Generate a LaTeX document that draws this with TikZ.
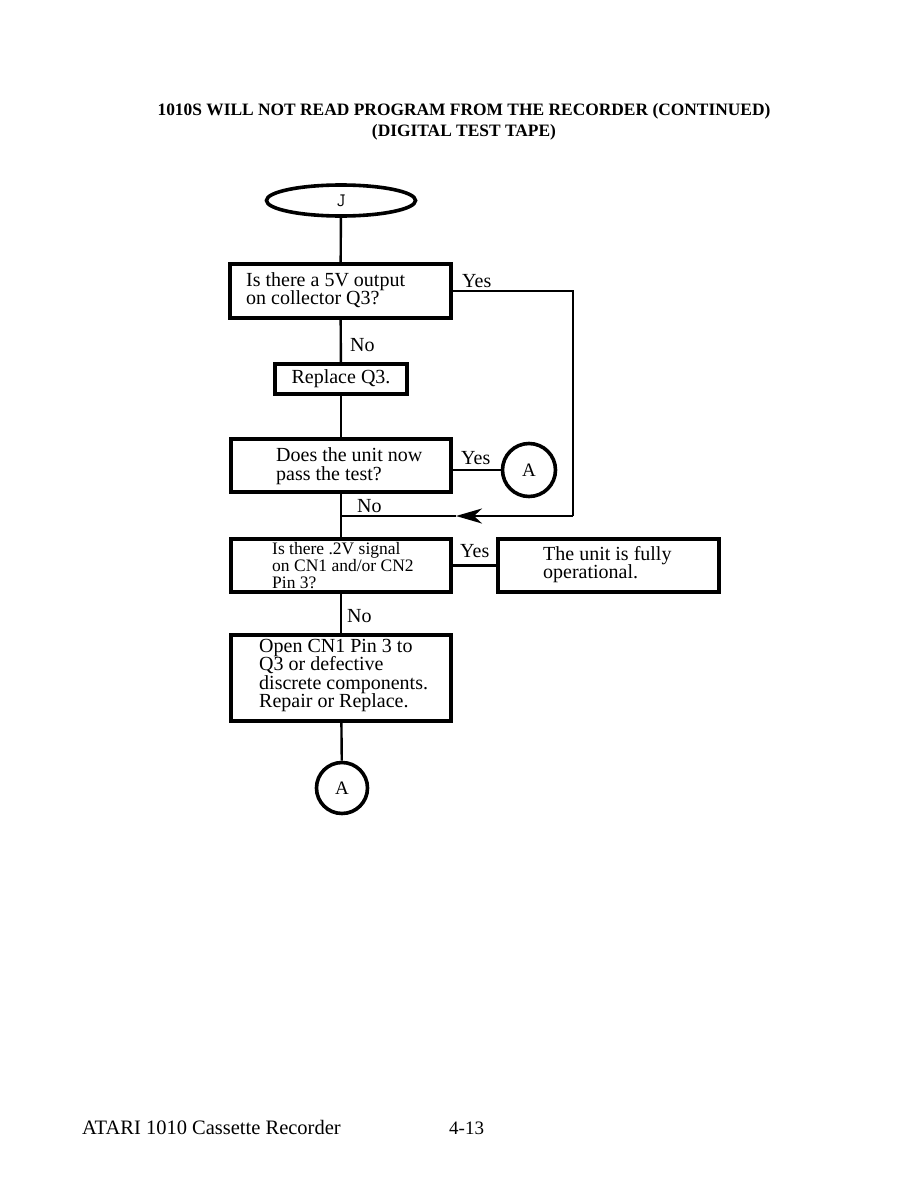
\documentclass[tikz,border=0pt]{standalone}
\usepackage{fontspec}
\setmainfont{Liberation Serif}
\usetikzlibrary{arrows.meta,shapes.geometric}
\begin{document}
\begin{tikzpicture}[x=1pt,y=-1pt,
  box/.style={draw, line width=3.8pt, inner sep=0pt},
  txt/.style={inner sep=0pt, align=left, font=\fontsize{20}{18.5}\selectfont},
  lbl/.style={inner sep=0pt, font=\fontsize{20}{18.5}\selectfont},
  conn/.style={line width=2.4pt},
  conc/.style={draw, circle, line width=3.6pt, inner sep=0pt, font=\fontsize{19}{19}\selectfont}]
\useasboundingbox[fill=white] (0,0) rectangle (918,1188);
% title
\node[inner sep=0pt, anchor=base, font=\bfseries\fontsize{17.4}{17.4}\selectfont] (ti1) at (464,116) {1010S WILL NOT READ PROGRAM FROM THE RECORDER (CONTINUED)};
\node[inner sep=0pt, anchor=base, font=\bfseries\fontsize{17.4}{17.4}\selectfont] (ti2) at (464,136) {(DIGITAL TEST TAPE)};
% terminal
\node[draw, ellipse, line width=3.6pt, minimum width=149pt, minimum height=31pt, inner sep=0pt, font=\ttfamily\fontsize{19}{19}\selectfont] (J) at (341,200.5) {J};
% boxes
\node[box, minimum width=221pt, minimum height=54pt] (b1) at (340.5,291) {};
\node[box, minimum width=132pt, minimum height=30pt] (b2) at (341,379) {};
\node[box, minimum width=220pt, minimum height=53pt] (b3) at (341,465.5) {};
\node[box, minimum width=220pt, minimum height=53pt] (b4) at (341,565.5) {};
\node[box, minimum width=221pt, minimum height=53pt] (b5) at (608.5,565.5) {};
\node[box, minimum width=220pt, minimum height=86pt] (b6) at (341,678) {};
% texts
\node[txt, anchor=west] (t1) at (246,290) {Is there a 5V output\\on collector Q3?};
\node[txt] (t2) at (341,379) {Replace Q3.};
\node[txt, anchor=west] (t3) at (276,466) {Does the unit now\\pass the test?};
\node[txt, anchor=west, font=\fontsize{17.5}{17}\selectfont] (t4) at (272,565.5) {Is there .2V signal\\on CN1 and/or CN2\\Pin 3?};
\node[txt, anchor=west] (t5) at (543,564.5) {The unit is fully\\operational.};
\node[txt, anchor=west] (t6) at (259,675.5) {Open CN1 Pin 3 to\\Q3 or defective\\discrete components.\\Repair or Replace.};
% connectors
\node[conc, minimum size=53pt] (A1) at (529,470) {A};
\node[conc, minimum size=51pt] (A2) at (342,788) {A};
\coordinate (c1) at (573,291);
\coordinate (c2) at (573,516);
\coordinate (tip) at (456,516);
\coordinate (j1) at (341,516);
\draw[conn] (J) -- (b1);
\draw[conn] (b1) -- (b2);
\draw[conn] (b2) -- (b3);
\draw[conn] (b3) -- (b4);
\draw[conn] (b4) -- (b6);
\draw[conn] (b6) -- (A2);
\draw[conn] (b1.east) -- (c1) -- (c2);
\draw[conn, -{Stealth[length=26pt,width=15pt,inset=8pt]}] (c2) -- (tip);
\draw[conn] (tip) -- (j1);
\draw[conn] (b3.east |- A1) -- (A1.west);
\draw[conn] (b4.east) -- (b5.west);
% labels
\node[lbl, anchor=base west] (y1) at (462,287) {Yes};
\node[lbl, anchor=base west] (n1) at (350,351) {No};
\node[lbl, anchor=base west] (y3) at (461,464) {Yes};
\node[lbl, anchor=base west] (n3) at (357,512) {No};
\node[lbl, anchor=base west] (y4) at (460,557) {Yes};
\node[lbl, anchor=base west] (n4) at (347,622) {No};
% footer
\node[inner sep=0pt, anchor=base west, font=\fontsize{20.5}{20.5}\selectfont] (f1) at (82,1134) {ATARI 1010 Cassette Recorder};
\node[inner sep=0pt, anchor=base west, font=\fontsize{19}{19}\selectfont] (f2) at (449,1134) {4-13};
\end{tikzpicture}
\end{document}
